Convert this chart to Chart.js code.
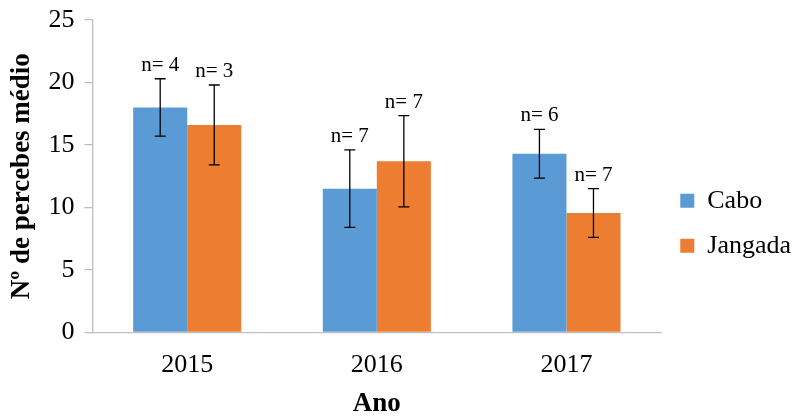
<!DOCTYPE html>
<html>
<head>
<meta charset="utf-8">
<script src="https://cdn.jsdelivr.net/npm/chart.js@4/dist/chart.umd.min.js"></script>
<style>
  html, body { margin: 0; padding: 0; background: #fff; }
  #wrap { width: 793px; height: 420px; }
</style>
</head>
<body>
<div id="wrap"><canvas id="barChart" width="793" height="420"></canvas></div>
<script>
// Chart data
const years = ["2015", "2016", "2017"];
const caboMeans = [18.0, 11.5, 14.3];
const caboErrors = [2.3, 3.1, 1.95];
const caboN = [4, 7, 6];
const jangadaMeans = [16.6, 13.7, 9.55];
const jangadaErrors = [3.2, 3.65, 1.95];
const jangadaN = [3, 7, 7];
const yTicks = [0, 5, 10, 15, 20, 25];

const errors = [caboErrors, jangadaErrors];
const counts = [caboN, jangadaN];

const serif = "'Liberation Serif', 'Times New Roman', serif";
Chart.defaults.font.family = serif;
Chart.defaults.color = "#000";

// Draws error bars and the "n= x" labels above them
const errorBarPlugin = {
    id: "errorBars",
    afterDatasetsDraw(chart) {
        const ctx = chart.ctx;
        const yScale = chart.scales.y;
        ctx.save();
        ctx.strokeStyle = "#000";
        ctx.lineWidth = 1.3;
        ctx.fillStyle = "#000";
        ctx.font = "21px " + serif;
        ctx.textAlign = "center";
        ctx.textBaseline = "bottom";
        chart.data.datasets.forEach((ds, di) => {
            const meta = chart.getDatasetMeta(di);
            meta.data.forEach((bar, i) => {
                const v = ds.data[i];
                const e = errors[di][i];
                const top = yScale.getPixelForValue(v + e);
                const bot = yScale.getPixelForValue(v - e);
                const x = bar.x;
                ctx.beginPath();
                ctx.moveTo(x, top);
                ctx.lineTo(x, bot);
                ctx.moveTo(x - 5.5, top);
                ctx.lineTo(x + 5.5, top);
                ctx.moveTo(x - 5.5, bot);
                ctx.lineTo(x + 5.5, bot);
                ctx.stroke();
                ctx.fillText("n= " + counts[di][i], x, top - 3);
            });
        });
        ctx.restore();
    },
};

const ctx = document.getElementById("barChart").getContext("2d");
const barChart = new Chart(ctx, {
    type: "bar",
    data: {
        labels: years,
        datasets: [
            {
                label: "Cabo",
                data: caboMeans,
                backgroundColor: "#5B9BD5",
                borderWidth: 0,
            },
            {
                label: "Jangada",
                data: jangadaMeans,
                backgroundColor: "#ED7D31",
                borderWidth: 0,
            },
        ],
    },
    options: {
        responsive: false,
        animation: false,
        layout: {
            padding: { top: 0, right: -8, bottom: 0, left: 6 },
        },
        datasets: {
            bar: { categoryPercentage: 0.57, barPercentage: 1.0 },
        },
        plugins: {
            legend: {
                position: "right",
                title: {
                    display: true,
                    text: " ",
                    padding: 0,
                    font: { size: 22 },
                },
                labels: {
                    boxWidth: 14,
                    boxHeight: 14,
                    padding: 19,
                    color: "#000",
                    font: { family: serif, size: 26 },
                },
            },
            tooltip: { enabled: false },
        },
        scales: {
            x: {
                grid: { drawOnChartArea: false, drawTicks: false },
                border: { color: "#BFBFBF", width: 1.3 },
                ticks: {
                    color: "#000",
                    padding: 17,
                    font: { family: serif, size: 26 },
                },
                title: {
                    display: true,
                    text: "Ano",
                    color: "#000",
                    padding: { top: -10, bottom: 0 },
                    font: { family: serif, size: 27, weight: "bold" },
                },
            },
            y: {
                min: 0,
                max: 25,
                afterBuildTicks(axis) {
                    axis.ticks = yTicks.map((v) => ({ value: v }));
                },
                afterFit(axis) {
                    axis.paddingTop = 20;
                },
                grid: { drawOnChartArea: false, drawTicks: true, tickLength: 8, color: "#BFBFBF", lineWidth: 1.3 },
                border: { color: "#BFBFBF", width: 1.3 },
                ticks: {
                    color: "#000",
                    padding: 10,
                    font: { family: serif, size: 26 },
                },
                title: {
                    display: true,
                    text: "Nº de percebes médio",
                    color: "#000",
                    padding: { top: 0, bottom: 0 },
                    font: { family: serif, size: 27, weight: "bold" },
                },
            },
        },
    },
    plugins: [errorBarPlugin],
});
</script>
</body>
</html>
